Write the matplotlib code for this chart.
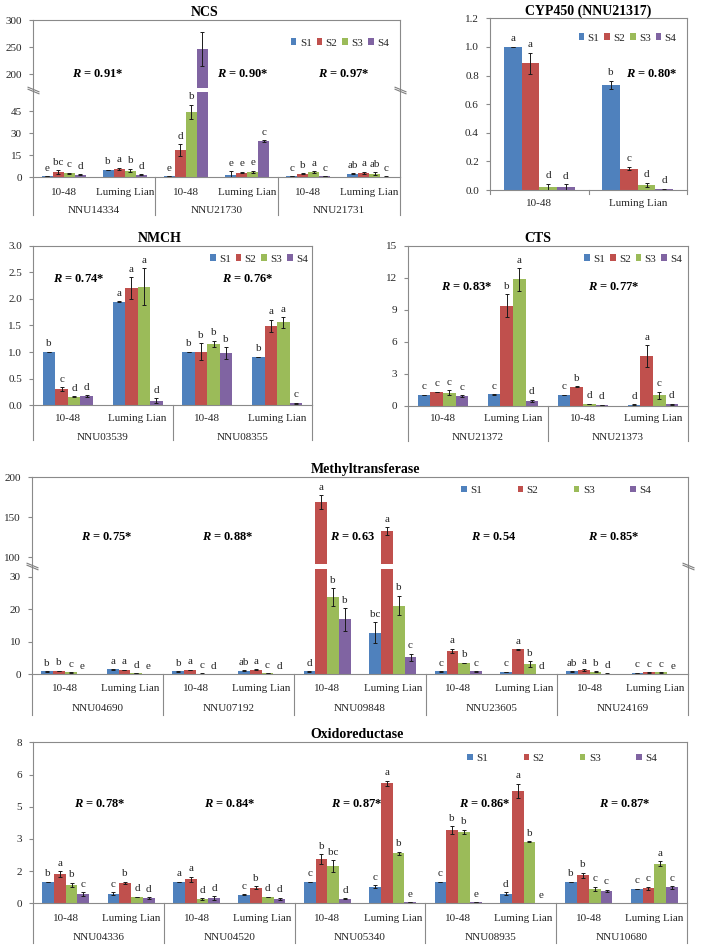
import numpy as np
import matplotlib
matplotlib.use("Agg")
import matplotlib.pyplot as plt
from matplotlib.patches import Patch
from matplotlib.path import Path
from matplotlib.ticker import FormatStrFormatter
import matplotlib.transforms as mtransforms

plt.rcParams['font.family'] = ['Liberation Serif', 'DejaVu Serif']
plt.rcParams['mathtext.fontset'] = 'custom'
plt.rcParams['mathtext.it'] = 'Liberation Serif:italic:bold'
plt.rcParams['mathtext.rm'] = 'Liberation Serif:bold'

# ---------------- data ----------------
series = ["S1", "S2", "S3", "S4"]
cultivars = ["10-48", "Luming Lian"]

# NCS
ncs_genes = ["NNU14334", "NNU21730", "NNU21731"]
ncs_mean = [[0.7, 5.0, 0.7, 1.8, 0.7, 2.5],
            [3.6, 5.9, 18.4, 3.2, 2.3, 3.0],
            [2.7, 4.5, 44.5, 3.6, 3.6, 2.5],
            [1.8, 1.8, 246, 24.5, 0.7, 0.5]]
ncs_err = [[0.1, 0.3, 0.1, 2.5, 0.1, 0.3],
           [1.2, 0.7, 4.0, 0.5, 0.3, 0.7],
           [0.3, 1.2, 5.0, 0.8, 0.4, 0.8],
           [0.3, 0.3, 31, 0.7, 0.1, 0.1]]
ncs_letters = [["e", "b", "e", "e", "c", "ab"],
               ["bc", "a", "d", "e", "b", "a"],
               ["c", "b", "b", "e", "a", "ab"],
               ["d", "d", "", "c", "c", "c"]]
ncs_r = ["0.91*", "0.90*", "0.97*"]
ncs_yticks = [0, 15, 30, 45, 200, 250, 300]

# CYP450
cyp_mean = [[1.0, 0.735], [0.885, 0.15], [0.022, 0.035], [0.02, 0.005]]
cyp_err = [[0.002, 0.03], [0.075, 0.012], [0.022, 0.015], [0.02, 0.003]]
cyp_letters = [["a", "b"], ["a", "c"], ["d", "d"], ["d", "d"]]
cyp_r = ["0.80*"]

# NMCH
nmch_genes = ["NNU03539", "NNU08355"]
nmch_mean = [[1.0, 1.95, 1.0, 0.91],
             [0.30, 2.20, 1.01, 1.49],
             [0.16, 2.23, 1.15, 1.56],
             [0.17, 0.09, 0.98, 0.04]]
nmch_err = [[0.005, 0.005, 0.005, 0.005],
            [0.04, 0.21, 0.16, 0.12],
            [0.01, 0.35, 0.06, 0.10],
            [0.02, 0.04, 0.11, 0.01]]
nmch_letters = [["b", "a", "b", "b"], ["c", "a", "b", "a"],
                ["d", "a", "b", "a"], ["d", "d", "b", "c"]]
nmch_r = ["0.74*", "0.76*"]

# CTS
cts_genes = ["NNU21372", "NNU21373"]
cts_mean = [[1.0, 1.06, 1.0, 0.1],
            [1.28, 9.37, 1.78, 4.66],
            [1.22, 11.85, 0.15, 0.97],
            [0.9, 0.44, 0.06, 0.15]]
cts_err = [[0.03, 0.03, 0.03, 0.02],
           [0.03, 1.06, 0.03, 1.0],
           [0.25, 1.05, 0.03, 0.35],
           [0.1, 0.1, 0.01, 0.05]]
cts_letters = [["c", "c", "c", "d"], ["c", "b", "b", "a"],
               ["c", "a", "d", "c"], ["c", "d", "d", "d"]]
cts_r = ["0.83*", "0.77*"]

# Methyltransferase
met_genes = ["NNU04690", "NNU07192", "NNU09848", "NNU23605", "NNU24169"]
met_mean = [[0.9, 1.5, 0.9, 1.1, 0.9, 12.8, 0.9, 0.7, 0.9, 0.5],
            [1.0, 1.3, 1.3, 1.4, 169, 132.6, 7.3, 7.7, 1.3, 0.6],
            [0.6, 0.3, 0.2, 0.3, 23.9, 21.2, 3.5, 3.2, 0.8, 0.6],
            [0.05, 0.05, 0.05, 0.05, 16.9, 5.2, 0.9, 0.05, 0.2, 0.05]]
met_err = [[0.05, 0.1, 0.05, 0.1, 0.05, 3.3, 0.05, 0.05, 0.05, 0.05],
           [0.1, 0.1, 0.1, 0.1, 8.8, 4.8, 0.6, 0.1, 0.2, 0.05],
           [0.05, 0.05, 0.05, 0.05, 2.7, 3.0, 0.1, 0.8, 0.1, 0.05],
           [0.0, 0.0, 0.0, 0.0, 3.5, 1.1, 0.1, 0.0, 0.05, 0.0]]
met_letters = [["b", "a", "b", "ab", "d", "bc", "c", "c", "ab", "c"],
               ["b", "a", "a", "a", "a", "a", "a", "a", "a", "c"],
               ["c", "d", "c", "c", "b", "b", "b", "b", "b", "c"],
               ["e", "e", "d", "d", "b", "c", "c", "d", "d", "e"]]
met_r = ["0.75*", "0.88*", "0.63", "0.54", "0.85*"]
met_yticks = [0, 10, 20, 30, 100, 150, 200]

# Oxidoreductase
oxi_genes = ["NNU04336", "NNU04520", "NNU05340", "NNU08935", "NNU10680"]
oxi_mean = [[1.05, 0.48, 1.05, 0.43, 1.05, 0.83, 1.05, 0.48, 1.05, 0.71],
            [1.44, 1.02, 1.19, 0.78, 2.18, 5.96, 3.63, 5.58, 1.39, 0.74],
            [0.91, 0.31, 0.21, 0.31, 1.85, 2.48, 3.56, 3.07, 0.73, 1.96],
            [0.46, 0.25, 0.26, 0.21, 0.23, 0.05, 0.05, 0.0, 0.61, 0.79]]
oxi_err = [[0.01, 0.08, 0.01, 0.02, 0.01, 0.08, 0.01, 0.07, 0.01, 0.01],
           [0.15, 0.05, 0.12, 0.06, 0.25, 0.12, 0.2, 0.35, 0.13, 0.08],
           [0.12, 0.01, 0.05, 0.01, 0.3, 0.08, 0.1, 0.02, 0.1, 0.12],
           [0.08, 0.04, 0.08, 0.06, 0.02, 0.01, 0.01, 0.0, 0.06, 0.06]]
oxi_letters = [["b", "c", "a", "c", "c", "c", "c", "d", "b", "c"],
               ["a", "b", "a", "b", "b", "a", "b", "a", "b", "c"],
               ["b", "d", "d", "d", "bc", "b", "b", "b", "c", "a"],
               ["c", "d", "d", "d", "d", "e", "e", "e", "c", "c"]]
oxi_r = ["0.78*", "0.84*", "0.87*", "0.86*", "0.87*"]

# ---------------- style ----------------
colors = ["#4F81BD", "#C0504D", "#9BBB59", "#8064A2"]
AX_COL = "#8a8a8a"
TXT = "#262626"
W = 0.18
PT = 0.72  # points per pixel at dpi 100

fig = plt.figure(figsize=(7.01, 9.49), dpi=100)


def add_axes(x0, x1, y0, y1):
    return fig.add_axes([x0 / 701, 1 - y1 / 949, (x1 - x0) / 701, (y1 - y0) / 949])


def break_scale(lo, hi, gap, k):
    def fwd(v):
        v = np.asarray(v, dtype=float)
        return np.where(v <= lo, v,
                        np.where(v >= hi, lo + gap + (v - hi) * k,
                                 lo + (v - lo) * gap / (hi - lo)))

    def inv(y):
        y = np.asarray(y, dtype=float)
        return np.where(y <= lo, y,
                        np.where(y >= lo + gap, hi + (y - lo - gap) / k,
                                 lo + (y - lo) * (hi - lo) / gap))
    return fwd, inv


brk_path = Path([(-6, 3.5), (6, -1.5), (-6, 1.5), (6, -3.5)],
                [Path.MOVETO, Path.LINETO, Path.MOVETO, Path.LINETO])


def draw_panel(ax, means, errs, letters, title, title_x, genes=None,
               ext_px=38, lab_px=15, gene_px=33, scale=None, ylim=None,
               yticks=None, fmt=None, r_vals=None, r_pos=None,
               leg_xy=None, leg_colsp=0.45, title_pad=3):
    n = len(means[0])
    xs = np.arange(n)
    if scale is not None:
        ax.set_yscale('function', functions=scale)
    for j in range(4):
        x = xs + (j - 1.5) * W
        ax.bar(x, means[j], W, color=colors[j], zorder=1, linewidth=0)
        ax.errorbar(x, means[j], yerr=errs[j], fmt='none', ecolor='#1a1a1a',
                    elinewidth=0.7, capsize=1.6, capthick=0.7, zorder=2)
        for xi, m, e, lt in zip(x, means[j], errs[j], letters[j]):
            if lt:
                ax.annotate(lt, (xi, m + e), xytext=(0, 2.5),
                            textcoords='offset points', ha='center',
                            va='bottom', fontsize=8, color=TXT)
    ax.set_xlim(-0.5, n - 0.5)
    ax.set_ylim(*ylim)
    ax.set_yticks(yticks)
    if fmt is not None:
        ax.yaxis.set_major_formatter(FormatStrFormatter(fmt))
    else:
        ax.set_yticklabels([str(t) for t in yticks])
    ax.tick_params(axis='y', direction='out', length=3, width=0.8,
                   colors=AX_COL, labelcolor=TXT, labelsize=8, pad=5)
    ax.set_xticks([])
    for s in ax.spines.values():
        s.set_color(AX_COL)
        s.set_linewidth(0.8)
        s.set_zorder(3)
    # category labels
    for i in range(n):
        ax.annotate(cultivars[i % 2], (i, 0), xycoords=('data', 'axes fraction'),
                    xytext=(0, -lab_px * PT), textcoords='offset points',
                    ha='center', va='center', fontsize=8, color=TXT)
    blend = mtransforms.blended_transform_factory(ax.transData, ax.transAxes)
    hpx = ax.get_position().height * 949
    if genes is not None:
        for g, name in enumerate(genes):
            ax.annotate(name, (2 * g + 0.5, 0), xycoords=('data', 'axes fraction'),
                        xytext=(0, -gene_px * PT), textcoords='offset points',
                        ha='center', va='center', fontsize=8, color=TXT)
        for b in np.arange(-0.5, n, 2.0):
            ax.plot([b, b], [0, -ext_px / hpx], transform=blend, color=AX_COL,
                    lw=0.8, clip_on=False, zorder=3)
    else:
        for b in np.arange(-0.5, n, 1.0):
            ax.plot([b, b], [0, -ext_px / hpx], transform=blend, color=AX_COL,
                    lw=0.8, clip_on=False, zorder=3)
    # R labels
    if r_vals is not None:
        for rv, (rx, ry) in zip(r_vals, r_pos):
            ax.text(rx, ry, r'$R$ = ' + rv, ha='center', va='center',
                    fontsize=9, fontweight='bold', color='black')
    ax.set_title(title, fontsize=10, fontweight='bold', x=title_x, pad=title_pad)
    handles = [Patch(facecolor=c, edgecolor='none') for c in colors]
    ax.legend(handles, series, loc='center', bbox_to_anchor=leg_xy, ncol=4,
              frameon=False, fontsize=8, handlelength=0.5, handleheight=0.5,
              handletextpad=0.3, columnspacing=leg_colsp, borderpad=0,
              labelcolor=TXT)


def add_break(ax, yval):
    blend = mtransforms.blended_transform_factory(ax.transAxes, ax.transData)
    ax.plot([0, 1], [yval, yval], transform=blend, ls='none', marker=brk_path,
            ms=8.6, mec='#7f7f7f', mfc='none', mew=0.8, clip_on=False, zorder=4)


# ---------------- NCS ----------------
ax = add_axes(33, 400, 20, 177.3)
lo, hi, gap = 58.0, 174.0, 2.7
draw_panel(ax, ncs_mean, ncs_err, ncs_letters, "NCS", 0.469, genes=ncs_genes,
           ext_px=38, lab_px=15, gene_px=33,
           scale=break_scale(lo, hi, gap, 0.368), ylim=(0, 300),
           yticks=ncs_yticks, r_vals=ncs_r,
           r_pos=[(0.563, 200), (2.933, 200), (4.585, 200)],
           leg_xy=(0.836, 0.854), leg_colsp=0.45)
ax.axhspan(lo, hi, color='white', zorder=1.5, lw=0)
add_break(ax, (lo + hi) / 2)

# ---------------- CYP450 ----------------
ax = add_axes(490, 687, 18.3, 190)
draw_panel(ax, cyp_mean, cyp_err, cyp_letters, "CYP450 (NNU21317)", 0.5,
           genes=None, ext_px=4, lab_px=13, ylim=(0, 1.2),
           yticks=np.arange(0, 1.21, 0.2), fmt='%.1f', r_vals=cyp_r,
           r_pos=[(1.145, 0.81)], leg_xy=(0.698, 0.885), leg_colsp=0.45,
           title_pad=2)

# ---------------- NMCH ----------------
ax = add_axes(33, 312, 245.7, 405.3)
draw_panel(ax, nmch_mean, nmch_err, nmch_letters, "NMCH", 0.455,
           genes=nmch_genes, ext_px=35, lab_px=13, gene_px=32,
           ylim=(0, 3.0), yticks=np.arange(0, 3.01, 0.5), fmt='%.1f',
           r_vals=nmch_r, r_pos=[(0.16, 2.37), (2.58, 2.37)],
           leg_xy=(0.81, 0.917), leg_colsp=0.45)

# ---------------- CTS ----------------
ax = add_axes(408, 688, 245.7, 405.7)
draw_panel(ax, cts_mean, cts_err, cts_letters, "CTS", 0.464,
           genes=cts_genes, ext_px=35, lab_px=13, gene_px=32,
           ylim=(0, 15), yticks=np.arange(0, 15.1, 3), fmt='%.0f',
           r_vals=cts_r, r_pos=[(0.343, 11.1), (2.443, 11.1)],
           leg_xy=(0.804, 0.917), leg_colsp=0.45)

# ---------------- Methyltransferase ----------------
ax = add_axes(32, 688, 477.3, 674.3)
lo, hi, gap = 32.6, 91.8, 1.54
draw_panel(ax, met_mean, met_err, met_letters, "Methyltransferase", 0.508,
           genes=met_genes, ext_px=41, lab_px=14, gene_px=34,
           scale=break_scale(lo, hi, gap, 0.2458), ylim=(0, 200),
           yticks=met_yticks, r_vals=met_r,
           r_pos=[(0.643, 124.7), (2.488, 124.7), (4.393, 124.7),
                  (6.543, 124.7), (8.372, 124.7)],
           leg_xy=(0.799, 0.932), leg_colsp=3.2)
ax.axhspan(lo, hi, color='white', zorder=1.5, lw=0)
add_break(ax, (lo + hi) / 2)

# ---------------- Oxidoreductase ----------------
ax = add_axes(33, 687, 742.3, 903.3)
draw_panel(ax, oxi_mean, oxi_err, oxi_letters, "Oxidoreductase", 0.495,
           genes=oxi_genes, ext_px=40, lab_px=15, gene_px=34,
           ylim=(0, 8), yticks=np.linspace(0, 8, 6), fmt='%.0f',
           r_vals=oxi_r, r_pos=[(0.524, 4.93), (2.512, 4.93), (4.454, 4.93),
                                (6.411, 4.93), (8.552, 4.93)],
           leg_xy=(0.809, 0.902), leg_colsp=3.2)

fig.savefig("out.png", dpi=100)
